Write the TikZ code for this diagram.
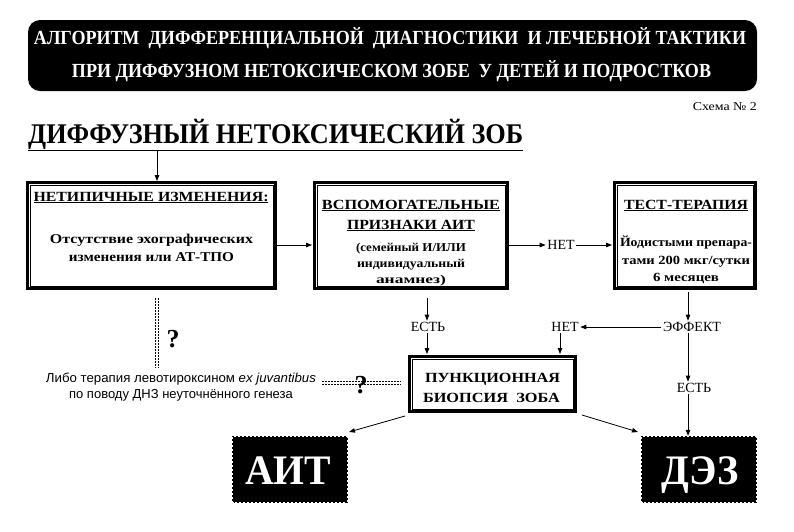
\documentclass[tikz,border=0pt]{standalone}
\usepackage{fontspec}
\usepackage{graphicx}
\setmainfont{Liberation Serif}
\newfontfamily\ser{Liberation Serif}
\newfontfamily\sansf{Liberation Sans}
\newcommand{\fitw}[2]{\resizebox{#1}{\height}{#2}}
\usetikzlibrary{arrows.meta,calc}
\tikzset{
  box/.style={draw, line width=3pt, rectangle, inner sep=0pt},
  innerline/.style={draw, line width=0.9pt},
  arr/.style={line width=0.8pt, -{Triangle[length=6pt,width=4.5pt]}},
  lbl/.style={inner sep=1.5pt, font=\ser\fontsize{14}{14}\selectfont},
  txt/.style={inner sep=0pt, anchor=base},
  dark/.style={fill=black, rectangle, inner sep=0pt},
  hatch/.style={draw=white, line width=1pt, dash pattern=on 2pt off 2pt},
  dots/.style={line width=1pt, dash pattern=on 1.5pt off 1.5pt},
  btitle/.style={txt, font=\ser\bfseries\fontsize{14}{14}\selectfont},
  bbody/.style={txt, font=\ser\bfseries\fontsize{13.5}{14}\selectfont},
  bsmall/.style={txt, font=\ser\bfseries\fontsize{12}{12}\selectfont},
  bigw/.style={txt, text=white, font=\ser\bfseries\fontsize{42}{42}\selectfont},
  banner/.style={txt, text=white, font=\ser\bfseries\fontsize{20}{20}\selectfont},
}
\begin{document}
\begin{tikzpicture}[x=1pt,y=-1pt]
\useasboundingbox (0,0) rectangle (794,531);
\fill[white] (0,0) rectangle (794,531);
% title banner
\node[dark, rounded corners=12pt, minimum width=729pt, minimum height=71pt] (bn) at (392.5,55.5) {};
\node[banner] (t1) at (390,44) {\fitw{712pt}{АЛГОРИТМ\ \ ДИФФЕРЕНЦИАЛЬНОЙ\ \ ДИАГНОСТИКИ\ \ И ЛЕЧЕБНОЙ ТАКТИКИ}};
\node[banner] (t2) at (391.5,77) {\fitw{639pt}{ПРИ ДИФФУЗНОМ НЕТОКСИЧЕСКОМ ЗОБЕ\ \ У ДЕТЕЙ И ПОДРОСТКОВ}};
\node[txt, anchor=base east, font=\ser\fontsize{12}{12}\selectfont] (sch) at (757,110) {\fitw{64pt}{Схема № 2}};
% headline
\node[txt, anchor=base west, font=\ser\bfseries\fontsize{28.5}{30}\selectfont] (hd) at (28,143) {\fitw{495pt}{\underline{ДИФФУЗНЫЙ НЕТОКСИЧЕСКИЙ ЗОБ}}};
\coordinate (h1) at (157,151);
% box 1
\node[box, minimum width=248pt, minimum height=106pt] (b1) at (151.5,235.5) {};
\draw[innerline] ([xshift=4pt,yshift=-4pt]b1.north west) rectangle ([xshift=-4pt,yshift=4pt]b1.south east);
\node[btitle] (b1t) at (151,201) {\fitw{235pt}{\underline{НЕТИПИЧНЫЕ ИЗМЕНЕНИЯ:}}};
\node[bbody] (b1b1) at (151.5,243) {\fitw{203pt}{Отсутствие эхографических}};
\node[bbody] (b1b2) at (151.5,261) {\fitw{165pt}{изменения или АТ-ТПО}};
% box 2
\node[box, minimum width=193pt, minimum height=106pt] (b2) at (411,235.5) {};
\draw[innerline] ([xshift=4pt,yshift=-4pt]b2.north west) rectangle ([xshift=-4pt,yshift=4pt]b2.south east);
\node[btitle] (b2t1) at (411,209) {\fitw{178pt}{\underline{ВСПОМОГАТЕЛЬНЫЕ}}};
\node[btitle] (b2t2) at (411,229) {\fitw{128pt}{\underline{ПРИЗНАКИ АИТ}}};
\node[bsmall] (b2b1) at (411,251) {\fitw{110pt}{(семейный И/ИЛИ}};
\node[bsmall] (b2b2) at (411,267) {\fitw{108pt}{индивидуальный}};
\node[bsmall] (b2b3) at (411,283) {\fitw{70pt}{анамнез)}};
% box 3
\node[box, minimum width=141pt, minimum height=106pt] (b3) at (685,235.5) {};
\draw[innerline] ([xshift=4pt,yshift=-4pt]b3.north west) rectangle ([xshift=-4pt,yshift=4pt]b3.south east);
\node[btitle] (b3t) at (686,209) {\fitw{124pt}{\underline{ТЕСТ-ТЕРАПИЯ}}};
\node[bsmall, font=\ser\bfseries\fontsize{12.5}{13}\selectfont] (b3b1) at (686,246) {\fitw{132pt}{Йодистыми препара-}};
\node[bsmall, font=\ser\bfseries\fontsize{12.5}{13}\selectfont] (b3b2) at (686,264) {\fitw{128pt}{тами 200 мкг/сутки}};
\node[bsmall, font=\ser\bfseries\fontsize{12.5}{13}\selectfont] (b3b3) at (686,281) {\fitw{66pt}{6 месяцев}};
% box 4
\node[box, minimum width=166pt, minimum height=55pt] (b4) at (492.5,384) {};
\draw[innerline] ([xshift=4pt,yshift=-4pt]b4.north west) rectangle ([xshift=-4pt,yshift=4pt]b4.south east);
\node[btitle] (b4t1) at (492.5,382) {\fitw{135pt}{ПУНКЦИОННАЯ}};
\node[btitle] (b4t2) at (491.5,402) {\fitw{137pt}{БИОПСИЯ\ \ ЗОБА}};
% result boxes
\node[dark, minimum width=116pt, minimum height=67pt] (ait) at (290,469.5) {};
\draw[hatch] ([xshift=1pt,yshift=-1pt]ait.north west) rectangle ([xshift=-1pt,yshift=1pt]ait.south east);
\node[bigw] (aitt) at (288,484) {\fitw{86pt}{АИТ}};
\node[dark, minimum width=116pt, minimum height=67pt] (dez) at (699,469.5) {};
\draw[hatch] ([xshift=1pt,yshift=-1pt]dez.north west) rectangle ([xshift=-1pt,yshift=1pt]dez.south east);
\node[bigw] (dezt) at (700,484) {\fitw{78pt}{ДЭЗ}};
% labels
\node[lbl] (net1) at (561,245) {НЕТ};
\node[lbl] (eff) at (692,327) {ЭФФЕКТ};
\node[lbl] (net2) at (565,327) {НЕТ};
\node[lbl] (est1) at (428,327) {ЕСТЬ};
\node[lbl] (est2) at (694,388) {ЕСТЬ};
% connector anchor points
\coordinate (b1r) at (277,245);
\coordinate (b2l) at (312,245);
\coordinate (b2r) at (509,245);
\coordinate (b3l) at (612,245);
\coordinate (b3d) at (688,292);
\coordinate (b2d) at (427,298);
\coordinate (b4a) at (427,354);
\coordinate (b4b) at (560,354);
\coordinate (b4l) at (405,416);
\coordinate (b4r) at (582,415);
\coordinate (aitc) at (349,432);
\coordinate (dezc) at (638,432);
% connectors
\draw[arr] (h1) -- (h1 |- b1.north);
\draw[arr] (b1r) -- (b2l);
\draw[arr] (b2r) -- (net1.west);
\draw[arr] (net1.east) -- (b3l);
\draw[arr] (b3d) -- (b3d |- eff.north);
\draw[arr] (eff.west) -- (net2.east);
\draw[arr] (b2d) -- (b2d |- est1.north);
\draw[arr] (b2d |- est1.south) -- (b4a);
\draw[arr] (b4b |- net2.south) -- (b4b);
\draw[arr] (b3d |- eff.south) -- (b3d |- est2.north);
\draw[arr] (b3d |- est2.south) -- (b3d |- dez.north);
\draw[arr] (b4l) -- (aitc);
\draw[arr] (b4r) -- (dezc);
% doubtful alternative
\coordinate (v1) at (156.5,298);
\coordinate (v2) at (156.5,368);
\draw[dots] ([xshift=-1.5pt]v1) -- ([xshift=-1.5pt]v2);
\draw[dots] ([xshift=1.5pt]v1) -- ([xshift=1.5pt]v2);
\node[txt, font=\ser\bfseries\fontsize{26}{26}\selectfont] (q1) at (173,347) {?};
\node[txt, font=\sansf\fontsize{13}{13}\selectfont] (alt1) at (181,382) {\fitw{270pt}{Либо терапия левотироксином \textit{ex juvantibus}}};
\node[txt, font=\sansf\fontsize{13}{13}\selectfont] (alt2) at (181,398) {по поводу ДНЗ неуточнённого генеза};
\coordinate (hz1) at (322,382.5);
\coordinate (hz2) at (401,382.5);
\draw[dots] ([yshift=1.5pt]hz1) -- ([yshift=1.5pt]hz2);
\draw[dots] ([yshift=-1.5pt]hz1) -- ([yshift=-1.5pt]hz2);
\node[txt, font=\ser\bfseries\fontsize{26}{26}\selectfont] (q2) at (361,393) {?};
\end{tikzpicture}
\end{document}
